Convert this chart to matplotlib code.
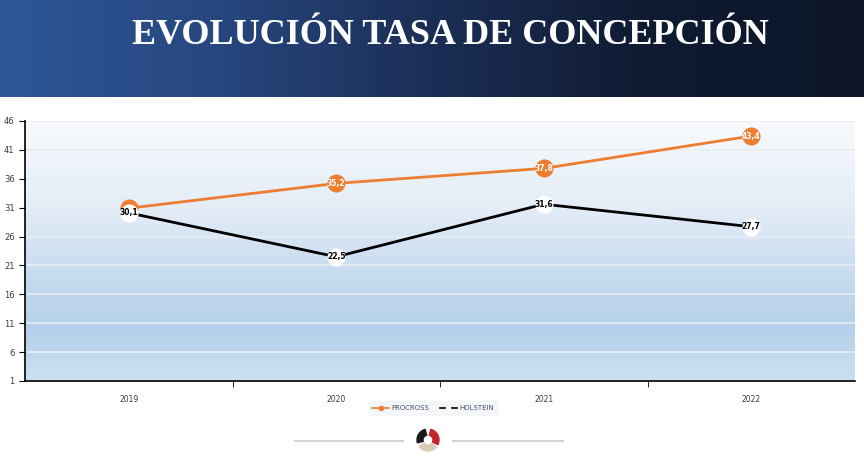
import numpy as np
import matplotlib.pyplot as plt
from matplotlib.colors import LinearSegmentedColormap
from matplotlib.patches import Wedge
from matplotlib.lines import Line2D

# datos
years = ['2019', '2020', '2021', '2022']
procross = [30.9, 35.2, 37.8, 43.4]
holstein = [30.1, 22.5, 31.6, 27.7]
yticks = [1, 6, 11, 16, 21, 26, 31, 36, 41, 46]

W, H = 864, 458
fig = plt.figure(figsize=(W / 100, H / 100), dpi=100)

# cabecera con degradado
hdr = fig.add_axes([0, 1 - 97 / H, 1, 97 / H])
cm_h = LinearSegmentedColormap.from_list('h', ['#2e5698', '#27477f', '#1b2e55', '#0f1b32', '#0d1628'])
hdr.imshow(np.linspace(0, 1, 256)[None, :], aspect='auto', cmap=cm_h, extent=[0, 1, 0, 1])
hdr.set_axis_off()
hdr.text(450 / W, 1 - 35 / 97, 'EVOLUCIÓN TASA DE CONCEPCIÓN', color='white',
         fontsize=26, family='Liberation Serif', fontweight='bold',
         ha='center', va='center', transform=hdr.transAxes)

# grafico
ax = fig.add_axes([25 / W, 1 - 381 / H, 830 / W, 260 / H])
x = np.arange(len(years))
cm_bg = LinearSegmentedColormap.from_list(
    'bg', [(0, '#f8fafd'), (0.33, '#e4edf7'), (0.55, '#cbdef1'), (0.8, '#b4d0ea'), (1, '#cee0f2')])
ax.imshow(np.linspace(0, 1, 256)[:, None], aspect='auto', cmap=cm_bg,
          extent=[-0.5, 3.5, 1, 46], zorder=0)
ax.set_xlim(-0.5, 3.5)
ax.set_ylim(1, 46)
ax.set_yticks(yticks)
for yv in yticks[1:]:
    ax.axhline(yv, color='#e8edf2', lw=1.2, zorder=1)

ax.set_xticks(x)
ax.set_xticklabels(years)
ax.set_xticks([0.5, 1.5, 2.5], minor=True)
ax.tick_params(axis='x', which='major', length=0, pad=10, labelsize=5.5, colors='#3a3a3a')
ax.tick_params(axis='x', which='minor', length=4, direction='out', color='black')
ax.tick_params(axis='y', length=4, labelsize=6, colors='black', labelcolor='#3a3a3a')
for s in ['top', 'right']:
    ax.spines[s].set_visible(False)
ax.spines['left'].set_linewidth(1.2)
ax.spines['bottom'].set_linewidth(1.2)

ax.plot(x, procross, color='#ed7d31', lw=2, marker='o', ms=12,
        mfc='#ed7d31', mec='#ed7d31', zorder=3)
# la etiqueta de 2019 queda tapada por el marcador blanco
for xi, v in list(zip(x, procross))[1:]:
    ax.text(xi, v, f'{v:.1f}'.replace('.', ','), color='white', fontsize=5.5,
            fontweight='bold', ha='center', va='center', zorder=4)
ax.plot(x, holstein, color='black', lw=2, marker='o', ms=12,
        mfc='white', mec='white', zorder=5)
for xi, v in zip(x, holstein):
    ax.text(xi, v, f'{v:.1f}'.replace('.', ','), color='black', fontsize=5.5,
            fontweight='bold', ha='center', va='center', zorder=6)

# leyenda
handles = [Line2D([], [], color='#ed7d31', lw=1.2, marker='o', ms=3),
           Line2D([], [], color='black', lw=1.2, marker='o', ms=3, mfc='white', mec='white')]
leg = fig.legend(handles, ['PROCROSS', 'HOLSTEIN'], loc='center',
                 bbox_to_anchor=(433 / W, 1 - 408 / H), ncol=2, fontsize=5,
                 frameon=True, fancybox=False, handlelength=2.5, columnspacing=1.5,
                 handletextpad=0.3, borderpad=0.6)
leg.get_frame().set_facecolor('#f3f5f8')
leg.get_frame().set_edgecolor('#f3f5f8')
for t in leg.get_texts():
    t.set_color('#46506a')

# logo
lg = fig.add_axes([0, 0, 1, 1], zorder=-1)
lg.set_xlim(0, W)
lg.set_ylim(H, 0)
lg.set_axis_off()
lg.plot([295, 403], [441, 441], color='#d4d2ce', lw=1.5)
lg.plot([453, 563], [441, 441], color='#d4d2ce', lw=1.5)
lg.add_patch(Wedge((428, 440), 11, 165, 255, width=6, color='#1a1a1a'))
lg.add_patch(Wedge((428, 440), 11, -75, 25, width=6, color='#c0262b'))
lg.add_patch(Wedge((428, 440), 11, 40, 145, width=6, color='#d8ccb4'))

fig.savefig('out.png', dpi=100)
